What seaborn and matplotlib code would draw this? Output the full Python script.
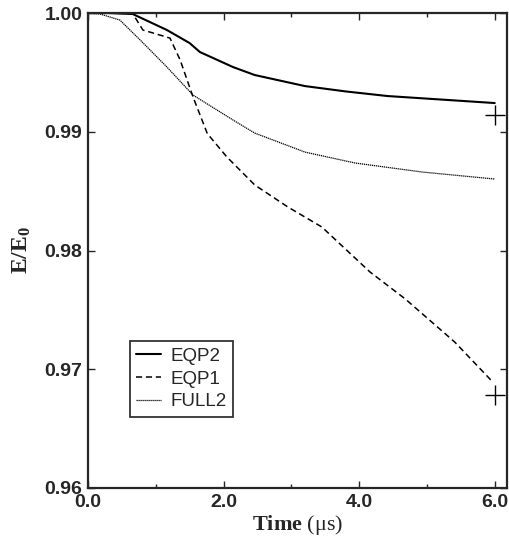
import numpy as np
import pandas as pd
import seaborn as sns
import matplotlib.pyplot as plt
from matplotlib.lines import Line2D

# values
t_eqp2 = [0.0, 0.3, 0.66, 1.165, 1.50, 1.65, 2.14, 2.46, 3.2, 3.8, 4.42, 6.0]
e_eqp2 = [1.0, 1.0, 0.99992, 0.99857, 0.99747, 0.99672, 0.99545, 0.99478, 0.99385, 0.99340, 0.99301, 0.99242]

t_eqp1 = [0.0, 0.3, 0.66, 0.81, 0.96, 1.21, 1.36, 1.55, 1.76, 2.05, 2.46, 2.95, 3.45, 4.16, 4.68, 5.41, 5.97]
e_eqp1 = [1.0, 1.0, 0.99995, 0.99857, 0.99832, 0.99789, 0.99604, 0.99293, 0.98985, 0.98787, 0.98552,
          0.98366, 0.98198, 0.97819, 0.97592, 0.97229, 0.96893]

t_full2 = [0.0, 0.18, 0.47, 0.77, 1.165, 1.55, 2.14, 2.46, 3.2, 3.94, 4.93, 6.0]
e_full2 = [1.0, 0.99992, 0.99941, 0.99773, 0.99545, 0.99309, 0.99099, 0.98989, 0.98829, 0.98737, 0.98661, 0.98602]

plus_t = [6.0, 6.0]
plus_e = [0.9914, 0.9678]

sns.set_style("ticks")
plt.rcParams["font.family"] = ["Liberation Sans", "DejaVu Sans"]
plt.rcParams["mathtext.fontset"] = "custom"
plt.rcParams["mathtext.rm"] = "Liberation Serif"
plt.rcParams["mathtext.bf"] = "Liberation Serif:bold"
plt.rcParams["mathtext.it"] = "Liberation Serif:italic"

fig = plt.figure(figsize=(5.10, 5.44), dpi=100)
ax = fig.add_axes([0.1725, 0.103, 0.8215, 0.873])

sns.lineplot(x=t_eqp2, y=e_eqp2, ax=ax, color="black", lw=1.5, sort=False, estimator=None)
sns.lineplot(x=t_eqp1, y=e_eqp1, ax=ax, color="black", lw=1.1, sort=False, estimator=None,
             linestyle=(0, (4, 2.5)))
sns.lineplot(x=t_full2, y=e_full2, ax=ax, color="black", lw=0.9, sort=False, estimator=None,
             linestyle=(0, (1, 0.6)))
ax.plot(plus_t, plus_e, ls="none", marker="+", ms=14, mew=1.0, color="black", clip_on=False)

ax.set_xlim(0, 6.18)
ax.set_ylim(0.96, 1.0)
ax.set_xticks([0, 2, 4, 6])
ax.set_xticks([1, 3, 5], minor=True)
ax.set_xticklabels(["0.0", "2.0", "4.0", "6.0"])
ax.set_yticks([0.96, 0.97, 0.98, 0.99, 1.00])
ax.set_yticklabels(["0.96", "0.97", "0.98", "0.99", "1.00"])
ax.tick_params(which="both", direction="in", top=True, right=True, labelsize=14, width=1.0)
ax.tick_params(which="major", length=5, pad=4)
ax.tick_params(which="minor", length=3)
for lab in ax.get_xticklabels() + ax.get_yticklabels():
    lab.set_fontweight("bold")
for s in ax.spines.values():
    s.set_linewidth(1.6)

ax.set_xlabel(r"$\mathbf{Time}$ (μs)", fontsize=16, family="Liberation Serif", labelpad=2)
ax.set_ylabel(r"$\mathbf{E/E_0}$", fontsize=17, family="Liberation Serif", labelpad=8)

handles = [Line2D([], [], color="black", lw=1.5),
           Line2D([], [], color="black", lw=1.1, linestyle=(0, (4, 2.5))),
           Line2D([], [], color="black", lw=0.9, linestyle=(0, (1, 0.6)))]
leg = ax.legend(handles, ["EQP2", "EQP1", "FULL2"], loc="upper left",
                bbox_to_anchor=(0.10, 0.309), fontsize=13.5, frameon=True, fancybox=False,
                handlelength=1.3, handletextpad=0.5, borderpad=0.35, labelspacing=0.3,
                borderaxespad=0)
leg.get_frame().set_edgecolor("black")
leg.get_frame().set_linewidth(1.3)

fig.savefig("out.png", dpi=100)
